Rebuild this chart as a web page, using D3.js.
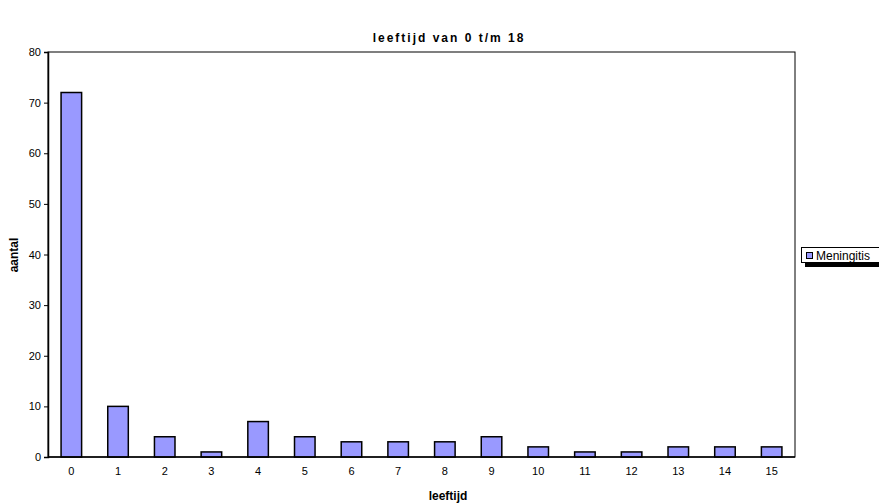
<!DOCTYPE html>
<html>
<head>
<meta charset="utf-8">
<script src="https://cdn.jsdelivr.net/npm/d3@7"></script>
<style>
  body { margin: 0; background: #fff; }
  svg { display: block; font-family: "Liberation Sans", Arial, sans-serif; }
</style>
</head>
<body>
<svg id="chart" width="879" height="504"></svg>
<script>
// Meningitis cases per age (0 through 15)
const categories = ["0","1","2","3","4","5","6","7","8","9","10","11","12","13","14","15"];
const values = [72, 10, 4, 1, 7, 4, 3, 3, 3, 4, 2, 1, 1, 2, 2, 2];
const yTicks = [0, 10, 20, 30, 40, 50, 60, 70, 80];
const seriesName = "Meningitis";

const svg = d3.select("#chart");
const m = { left: 48, top: 52, right: 795, bottom: 457 };

const x = d3.scaleBand().domain(categories).range([m.left, m.right]).paddingInner(0.56).paddingOuter(0.28);
const y = d3.scaleLinear().domain([0, 80]).range([m.bottom, m.top]);

// plot frame
svg.append("rect")
  .attr("x", m.left).attr("y", m.top)
  .attr("width", m.right - m.left).attr("height", m.bottom - m.top)
  .attr("fill", "#fff").attr("stroke", "#000").attr("stroke-width", 1);

// bars
svg.append("g").selectAll("rect").data(values).join("rect")
  .attr("x", (d, i) => x(categories[i]))
  .attr("y", d => y(d))
  .attr("width", x.bandwidth())
  .attr("height", d => y(0) - y(d))
  .attr("fill", "#9999ff").attr("stroke", "#000").attr("stroke-width", 1.5);

// y axis
const yAxis = svg.append("g").attr("transform", `translate(${m.left},0)`)
  .call(d3.axisLeft(y).tickValues(yTicks).tickSize(4).tickPadding(3));
yAxis.select(".domain").attr("stroke-width", 1.5);
yAxis.selectAll("text").attr("font-size", 11).attr("fill", "#000")
  .attr("font-family", "Liberation Sans, Arial, sans-serif");

// x axis
const xAxis = svg.append("g").attr("transform", `translate(0,${m.bottom})`)
  .call(d3.axisBottom(x).tickSize(0).tickPadding(10));
xAxis.select(".domain").attr("stroke-width", 1.5).attr("d", `M${m.left},0H${m.right}`);
xAxis.selectAll("text").attr("font-size", 11).attr("fill", "#000")
  .attr("font-family", "Liberation Sans, Arial, sans-serif");

// title
svg.append("text").attr("x", 449).attr("y", 42).attr("text-anchor", "middle")
  .attr("font-size", 12).attr("font-weight", "bold").attr("letter-spacing", 2)
  .text("leeftijd van 0 t/m 18");

// axis titles
svg.append("text").attr("x", 448).attr("y", 500).attr("text-anchor", "middle")
  .attr("font-size", 12).attr("font-weight", "bold").text("leeftijd");
svg.append("text").attr("transform", "translate(18,255) rotate(-90)")
  .attr("text-anchor", "middle").attr("font-size", 12).attr("font-weight", "bold").text("aantal");

// legend with drop shadow
const lg = svg.append("g");
lg.append("rect").attr("x", 805).attr("y", 251).attr("width", 90).attr("height", 16).attr("fill", "#000");
lg.append("rect").attr("x", 801.5).attr("y", 247.5).attr("width", 90).attr("height", 15)
  .attr("fill", "#fff").attr("stroke", "#000").attr("stroke-width", 1);
lg.append("rect").attr("x", 806.5).attr("y", 252.5).attr("width", 6).attr("height", 6)
  .attr("fill", "#9999ff").attr("stroke", "#000").attr("stroke-width", 1);
lg.append("text").attr("x", 816).attr("y", 259.5).attr("font-size", 12).text(seriesName);
</script>
</body>
</html>
